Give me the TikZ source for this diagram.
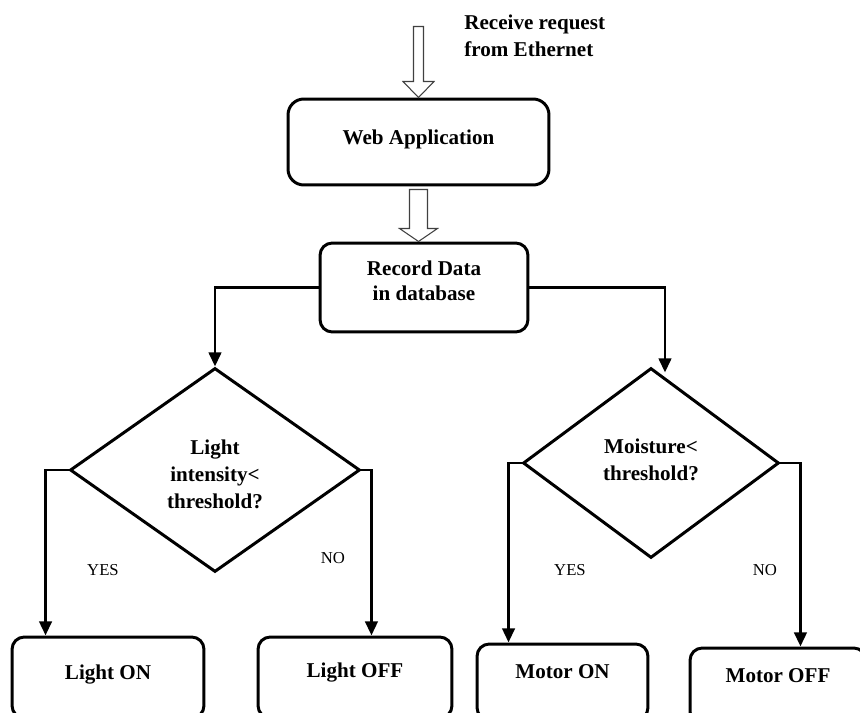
\documentclass[tikz,border=0pt]{standalone}
\usepackage{fontspec}
\setmainfont{Liberation Serif}
\usetikzlibrary{arrows, arrows.meta, shapes.geometric, calc}

\begin{document}
\begin{tikzpicture}[x=0.02cm, y=-0.02cm,
  box/.style={draw, line width=1.7pt, rounded corners=7pt, align=center, inner sep=0pt,
    font=\bfseries\fontsize{12}{14.5}\selectfont},
  decision/.style={draw, diamond, line width=1.7pt, align=center, inner sep=0pt,
    font=\bfseries\fontsize{12}{15.5}\selectfont},
  conn/.style={line width=1.7pt, -{Triangle[length=8pt,width=7pt]}},
  hollow/.style={draw=black!75, line width=0.6pt, fill=white},
  answer/.style={font=\fontsize{9.5}{11}\selectfont}]
\useasboundingbox (0,0) rectangle (860,713);
\clip (0,0) rectangle (860,713); %boxes at the bottom are cut

\node[anchor=west, align=left, inner sep=0pt, font=\bfseries\fontsize{12}{15.5}\selectfont] (rcv) at (464,36) {Receive request\\from Ethernet};

\node[box, minimum width=5.22cm, minimum height=1.72cm, rounded corners=9pt, text depth=5.5pt] (web) at (418.5,142) {Web Application};
\node[box, minimum width=4.16cm, minimum height=1.78cm, text depth=8pt] (rec) at (424,287.5) {Record Data\\in database};

\node[decision, minimum width=5.8cm, minimum height=4.08cm, text height=44pt] (light) at (215,470) {Light\\intensity<\\threshold?};
\node[decision, minimum width=5.12cm, minimum height=3.8cm, text depth=3.4pt] (moist) at (651,463) {Moisture<\\threshold?};

\node[box, minimum width=3.84cm, minimum height=1.62cm, text depth=6.3pt] (lon) at (108,677.5) {Light ON};
\node[box, minimum width=3.88cm, minimum height=1.62cm, text depth=8.7pt] (loff) at (355,677.5) {Light OFF};
\node[box, minimum width=3.42cm, minimum height=1.52cm, text depth=11.5pt] (mon) at (562.5,682) {Motor ON};
\node[box, minimum width=3.52cm, minimum height=1.52cm, text depth=12.5pt] (moff) at (778,686) {Motor OFF};

%hollow arrows
\draw[hollow] (web.north) -- ++(15.5,-16) -- ++(-10.5,0) -- ++(0,-55) -- ++(-10,0) -- ++(0,55) -- ++(-10.5,0) -- cycle;
\draw[hollow] (web.south) ++(-9,3) -- ++(18,0) -- ++(0,39) -- ++(10,0) -- ++(-19,13) -- ++(-19,-13) -- ++(10,0) -- cycle;

%branches
\draw[conn] (rec.west) -| (light.north);
\draw[conn] (rec.east) -| ($(moist.north)+(14,6)$);
\draw[conn] (light.west) -- ++(-23,0) coordinate (ly) -- (ly |- lon.north);  %yes
\draw[conn] (light.east) -- ++(10,0) coordinate (ln) -- (ln |- loff.north);  %no
\draw[conn] (moist.west) -- ++(-13,0) coordinate (my) -- (my |- mon.north);  %yes
\draw[conn] (moist.east) -- ++(20,0) coordinate (mn) -- (mn |- moff.north);  %no

\node[answer] (yes1) at (103,570) {YES};
\node[answer] (no1) at (333,558) {NO};
\node[answer] (yes2) at (570,570) {YES};
\node[answer] (no2) at (765,570) {NO};
\end{tikzpicture}
\end{document}
